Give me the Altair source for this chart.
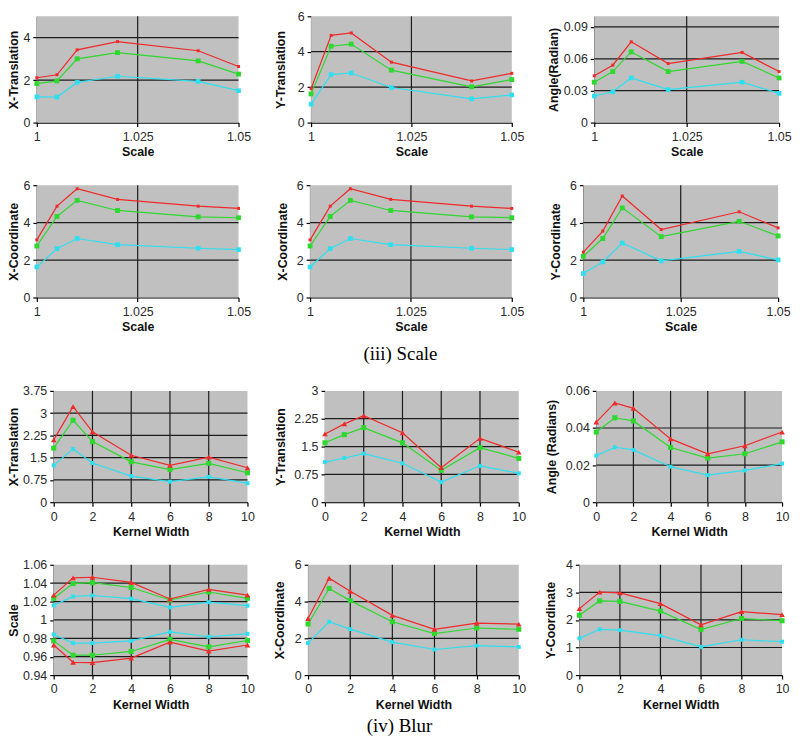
import altair as alt
import pandas as pd

# ---------------- data ----------------
SCALE_X = [1.0, 1.005, 1.01, 1.02, 1.04, 1.05]
KERNEL_X = [0, 1, 2, 4, 6, 8, 10]

SCALE_XTICKS = [1.0, 1.025, 1.05]
KERNEL_XTICKS = [0, 2, 4, 6, 8, 10]

# (iii) Scale
sc_xtrans = {
    "cyan": [1.21, 1.20, 1.89, 2.18, 1.94, 1.50],
    "green": [1.83, 1.96, 3.00, 3.29, 2.90, 2.28],
    "red": [2.11, 2.25, 3.42, 3.81, 3.38, 2.64],
}
sc_ytrans = {
    "cyan": [1.04, 2.71, 2.80, 1.98, 1.34, 1.56],
    "green": [1.62, 4.31, 4.43, 2.96, 2.02, 2.43],
    "red": [1.91, 4.92, 5.06, 3.41, 2.35, 2.78],
}
sc_angle = {
    "cyan": [0.025, 0.029, 0.042, 0.031, 0.038, 0.0275],
    "green": [0.038, 0.048, 0.0665, 0.048, 0.0575, 0.042],
    "red": [0.044, 0.054, 0.076, 0.0555, 0.066, 0.048],
}
sc_xcoord = {
    "cyan": [1.63, 2.61, 3.15, 2.82, 2.63, 2.56],
    "green": [2.75, 4.33, 5.19, 4.65, 4.31, 4.26],
    "red": [3.08, 4.88, 5.81, 5.24, 4.88, 4.76],
}
sc_ycoord = {
    "cyan": [1.28, 1.90, 2.91, 1.96, 2.46, 2.01],
    "green": [2.20, 3.15, 4.79, 3.25, 4.07, 3.29],
    "red": [2.42, 3.55, 5.42, 3.63, 4.58, 3.72],
}

# (iv) Blur
bl_xtrans = {
    "cyan": [1.24, 1.79, 1.32, 0.88, 0.69, 0.85, 0.64],
    "green": [1.82, 2.76, 2.04, 1.36, 1.10, 1.31, 0.99],
    "red": [2.10, 3.22, 2.37, 1.58, 1.24, 1.52, 1.16],
}
bl_ytrans = {
    "cyan": [1.08, 1.19, 1.31, 1.05, 0.54, 0.98, 0.78],
    "green": [1.60, 1.82, 2.01, 1.60, 0.86, 1.47, 1.18],
    "red": [1.84, 2.11, 2.33, 1.87, 0.93, 1.72, 1.35],
}
bl_angle = {
    "cyan": [0.0251, 0.0296, 0.0282, 0.0191, 0.0146, 0.0171, 0.0208],
    "green": [0.0378, 0.0455, 0.0438, 0.0295, 0.0238, 0.0261, 0.0325],
    "red": [0.0432, 0.0535, 0.0506, 0.0341, 0.0261, 0.0304, 0.0378],
}
bl_scale = {
    "cyan_hi": [1.0158, 1.0256, 1.0266, 1.0231, 1.0137, 1.0193, 1.0155],
    "cyan_lo": [0.9842, 0.9748, 0.9748, 0.9772, 0.9870, 0.9817, 0.9849],
    "green_hi": [1.0235, 1.0395, 1.0405, 1.0353, 1.0217, 1.0304, 1.0235],
    "green_lo": [0.9772, 0.9616, 0.9616, 0.9657, 0.9789, 0.9706, 0.9776],
    "red_hi": [1.0270, 1.0457, 1.0464, 1.0409, 1.0228, 1.0332, 1.0270],
    "red_lo": [0.9727, 0.9539, 0.9536, 0.9584, 0.9758, 0.9661, 0.9727],
}
bl_xcoord = {
    "cyan": [1.74, 2.90, 2.50, 1.79, 1.39, 1.60, 1.53],
    "green": [2.78, 4.71, 4.05, 2.90, 2.26, 2.56, 2.49],
    "red": [3.08, 5.27, 4.56, 3.25, 2.49, 2.83, 2.77],
}
bl_ycoord = {
    "cyan": [1.33, 1.66, 1.63, 1.43, 1.02, 1.28, 1.21],
    "green": [2.17, 2.69, 2.67, 2.32, 1.65, 2.05, 1.97],
    "red": [2.41, 3.01, 2.98, 2.59, 1.82, 2.30, 2.19],
}

CAPTIONS = ["(iii) Scale", "(iv) Blur"]

# ---------------- styling ----------------
COLORS = {"red": "#EE2A2A", "green": "#2ED82E", "cyan": "#2EDFF0"}
GREY = "#C0C0C0"
GRID = "#1C1C1C"
SCALE_MARKERS = {"red": ("square", 9), "green": ("square", 24), "cyan": ("square", 22)}
BLUR_MARKERS = {"red": ("triangle-up", 32), "green": ("square", 26), "cyan": ("square", 16)}
FMT = ".6~g"


def panel(xs, series, xtitle, ytitle, xdom, xticks, ydom, yticks, width, height,
          extent, markers, inset=0, caption=None, cap_x=0, cap_y=0):
    sk = dict(domain=xdom, nice=False, zero=False)
    if inset:
        sk["range"] = [inset, width]
    xsc = alt.Scale(**sk)
    ysc = alt.Scale(domain=ydom, nice=False, zero=False)
    xax = alt.Axis(title=xtitle, values=xticks, format=FMT, grid=False,
                   labelFlush=False, labelOverlap=False)
    yk = dict(title=ytitle, values=yticks, format=FMT, grid=False,
              labelOverlap=False, minExtent=extent, maxExtent=extent)
    if inset:
        yk["offset"] = -inset
    yax = alt.Axis(**yk)

    layers = []
    bgdf = pd.DataFrame({"x0": [xdom[0]], "x1": [xdom[1]], "y0": [ydom[0]], "y1": [ydom[1]]})
    layers.append(
        alt.Chart(bgdf).mark_rect(color=GREY).encode(
            x=alt.X("x0:Q", scale=xsc, axis=xax), x2="x1:Q",
            y=alt.Y("y0:Q", scale=ysc, axis=yax), y2="y1:Q")
    )
    hv = [v for v in yticks if v != ydom[0] and v != ydom[1]]
    layers.append(
        alt.Chart(pd.DataFrame({"v": hv})).mark_rule(color=GRID, strokeWidth=1.2).encode(
            y=alt.Y("v:Q", scale=ysc, axis=yax),
            x=alt.XDatum(xdom[0], scale=xsc, axis=xax), x2=alt.X2Datum(xdom[1]))
    )
    vv = [v for v in xticks if v != xdom[0] and v != xdom[1]]
    layers.append(
        alt.Chart(pd.DataFrame({"v": vv})).mark_rule(color=GRID, strokeWidth=1.2).encode(
            x=alt.X("v:Q", scale=xsc, axis=xax),
            y=alt.YDatum(ydom[0], scale=ysc, axis=yax), y2=alt.Y2Datum(ydom[1]))
    )
    for name, vals in series.items():
        c = name.split("_")[0]
        df = pd.DataFrame({"x": xs, "y": vals})
        enc = dict(x=alt.X("x:Q", scale=xsc, axis=xax), y=alt.Y("y:Q", scale=ysc, axis=yax))
        layers.append(alt.Chart(df).mark_line(color=COLORS[c], strokeWidth=1.2).encode(**enc))
        shp, sz = markers[c]
        layers.append(alt.Chart(df).mark_point(color=COLORS[c], filled=True, opacity=1,
                                               shape=shp, size=sz).encode(**enc))
    if caption:
        layers.append(
            alt.Chart(pd.DataFrame({"t": [caption]})).mark_text(
                font="Liberation Serif", fontSize=19, color="#000",
                align="center", baseline="middle").encode(
                text="t:N", x=alt.value(cap_x), y=alt.value(cap_y))
        )
    return alt.layer(*layers).properties(width=width, height=height)


# ---------------- rows ----------------
h1, h2, h3, h4 = 107, 113, 112, 111

row1 = alt.hconcat(
    panel(SCALE_X, sc_xtrans, "Scale", "X-Translation", [1.0, 1.05], SCALE_XTICKS,
          [0, 5], [0, 2, 4], 203, h1, 13, SCALE_MARKERS),
    panel(SCALE_X, sc_ytrans, "Scale", "Y-Translation", [1.0, 1.05], SCALE_XTICKS,
          [0, 6], [0, 2, 4, 6], 202, h1, 21, SCALE_MARKERS),
    panel(SCALE_X, sc_angle, "Scale", "Angle(Radian)", [1.0, 1.05], SCALE_XTICKS,
          [0, 0.1], [0, 0.03, 0.06, 0.09], 186, h1, 31, SCALE_MARKERS),
    spacing=23,
)
row2 = alt.hconcat(
    panel(SCALE_X, sc_xcoord, "Scale", "X-Coordinate", [1.0, 1.05], SCALE_XTICKS,
          [0, 6], [0, 2, 4, 6], 203, h2, 13, SCALE_MARKERS),
    panel(SCALE_X, sc_xcoord, "Scale", "X-Coordinate", [1.0, 1.05], SCALE_XTICKS,
          [0, 6], [0, 2, 4, 6], 203, h2, 18, SCALE_MARKERS,
          caption=CAPTIONS[0], cap_x=91, cap_y=170),
    panel(SCALE_X, sc_ycoord, "Scale", "Y-Coordinate", [1.0, 1.05], SCALE_XTICKS,
          [0, 6], [0, 2, 4, 6], 196, h2, 18, SCALE_MARKERS),
    spacing=25,
)
row3 = alt.hconcat(
    panel(KERNEL_X, bl_xtrans, "Kernel Width", "X-Translation", [0, 10], KERNEL_XTICKS,
          [0, 3.75], [0, 0.75, 1.5, 2.25, 3, 3.75], 212, h3, 30, BLUR_MARKERS, inset=17),
    panel(KERNEL_X, bl_ytrans, "Kernel Width", "Y-Translation", [0, 10], KERNEL_XTICKS,
          [0, 3], [0, 0.75, 1.5, 2.25, 3], 195, h3, 35, BLUR_MARKERS),
    panel(KERNEL_X, bl_angle, "Kernel Width", "Angle (Radians)", [0, 10], KERNEL_XTICKS,
          [0, 0.06], [0, 0.02, 0.04, 0.06], 187, h3, 35, BLUR_MARKERS),
    spacing=20,
)
row4 = alt.hconcat(
    panel(KERNEL_X, bl_scale, "Kernel Width", "Scale", [0, 10], KERNEL_XTICKS,
          [0.94, 1.06], [0.94, 0.96, 0.98, 1.0, 1.02, 1.04, 1.06], 212, h4, 30,
          BLUR_MARKERS, inset=17),
    panel(KERNEL_X, bl_xcoord, "Kernel Width", "X-Coordinate", [0, 10], KERNEL_XTICKS,
          [0, 6], [0, 2, 4, 6], 212, h4, 19, BLUR_MARKERS,
          caption=CAPTIONS[1], cap_x=92, cap_y=162),
    panel(KERNEL_X, bl_ycoord, "Kernel Width", "Y-Coordinate", [0, 10], KERNEL_XTICKS,
          [0, 4], [0, 1, 2, 3, 4], 204, h4, 19, BLUR_MARKERS),
    spacing=19,
)

chart = (
    alt.vconcat(row1, row2, row3, row4, spacing=21)
    .properties(padding=0)
    .configure_view(strokeWidth=0)
    .configure_axis(
        labelFont="Liberation Sans", labelFontSize=12.5, labelColor="#2a2a2a",
        titleFont="Liberation Sans", titleFontSize=12.5, titleFontWeight="bold",
        titleColor="#111", tickSize=4, tickColor="#000", tickWidth=1.2,
        domainColor="#000", domainWidth=1.3, zindex=1,
    )
    .configure_axisX(labelPadding=4, titlePadding=3)
    .configure_axisY(labelPadding=3, titlePadding=3)
)

chart.save("out.html", embed_options={"renderer": "svg", "actions": False})
